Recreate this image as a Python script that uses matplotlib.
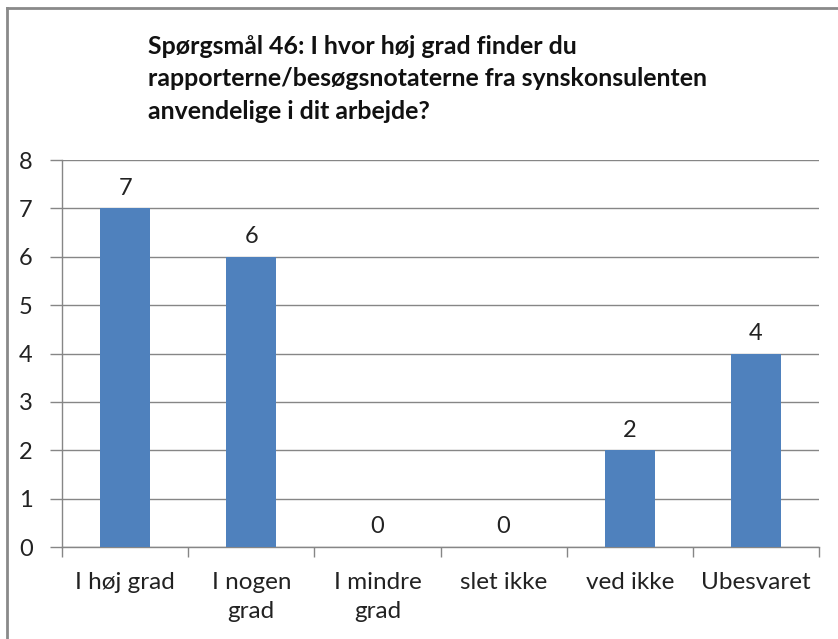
import matplotlib.pyplot as plt
from matplotlib.lines import Line2D

categories = ["I høj grad", "I nogen\ngrad", "I mindre\ngrad", "slet ikke", "ved ikke", "Ubesvaret"]
values = [7, 6, 0, 0, 2, 4]
yticks = [0, 1, 2, 3, 4, 5, 6, 7, 8]
title = ("Spørgsmål 46: I hvor høj grad finder du\n"
         "rapporterne/besøgsnotaterne fra synskonsulenten\n"
         "anvendelige i dit arbejde?")

BAR_COLOR = "#4F81BD"
AXIS_GRAY = "#868686"
FONT = ["Lato", "DejaVu Sans"]

fig = plt.figure(figsize=(8.38, 6.39), dpi=100)
ax = fig.add_axes([62 / 838, 1 - 547 / 639, (819 - 62) / 838, (547 - 160) / 639])

x = list(range(len(categories)))
ax.bar(x, values, width=0.4, color=BAR_COLOR, zorder=3)
for xi, v in zip(x, values):
    ax.text(xi, v + 0.2, str(v), ha="center", va="bottom", fontsize=17,
            family=FONT, color="#222222")

ax.set_xlim(-0.5, len(categories) - 0.5)
ax.set_ylim(0, 8)
ax.set_yticks(yticks)
ax.set_yticklabels([str(t) for t in yticks], family=FONT, fontsize=17, color="#222222")
ax.yaxis.grid(True, color=AXIS_GRAY, linewidth=1, zorder=0)
ax.tick_params(axis="y", length=9, width=1, color=AXIS_GRAY, pad=12)

ax.set_xticks(x)
ax.set_xticklabels(categories, family=FONT, fontsize=17.5, color="#222222", linespacing=1.45)
ax.tick_params(axis="x", which="major", length=0, pad=18)
ax.set_xticks([i - 0.5 for i in range(len(categories) + 1)], minor=True)
ax.tick_params(axis="x", which="minor", length=7, width=1, color=AXIS_GRAY)

for side in ["top", "right"]:
    ax.spines[side].set_visible(False)
for side in ["left", "bottom"]:
    ax.spines[side].set_color(AXIS_GRAY)
    ax.spines[side].set_linewidth(1)

fig.text(148 / 838, 1 - 35 / 639, title, ha="left", va="top", fontsize=17.9,
         fontweight="bold", family=FONT, color="#111111", linespacing=1.5)

# outer chart frame (only top and left edges lie inside the picture)
fig.add_artist(Line2D([6.5 / 838, 6.5 / 838], [0, 1 - 8 / 639], transform=fig.transFigure,
                      color="#8A8A8A", linewidth=2))
fig.add_artist(Line2D([6.5 / 838, 1], [1 - 8 / 639, 1 - 8 / 639], transform=fig.transFigure,
                      color="#8A8A8A", linewidth=2))

fig.savefig("out.png", dpi=100)
